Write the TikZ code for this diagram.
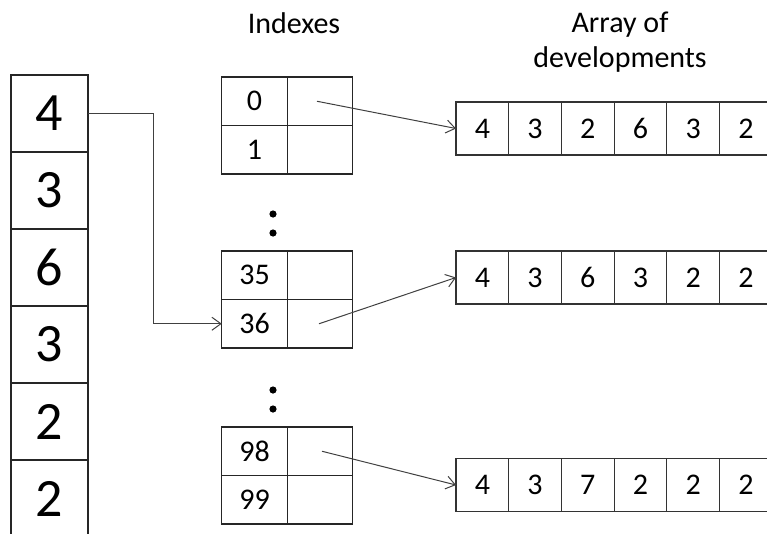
\documentclass[tikz,border=0pt]{standalone}
\usepackage{fontspec}
\setmainfont{Carlito}
\usetikzlibrary{positioning,arrows.meta}

\begin{document}
\begin{tikzpicture}[
    x=1pt, y=-1pt,
    bigcell/.style={draw=black!85, line width=1.2pt, minimum width=77pt, minimum height=77pt, inner sep=0pt, outer sep=0pt, font=\fontsize{54}{60}\selectfont},
    idxcell/.style={draw=black!85, line width=1.1pt, minimum width=65.5pt, minimum height=48.5pt, inner sep=0pt, outer sep=0pt, font=\fontsize{30}{30}\selectfont},
    devcell/.style={draw=black!80, line width=1.1pt, minimum width=52.7pt, minimum height=53pt, inner sep=0pt, outer sep=0pt, font=\fontsize{30}{30}\selectfont},
    title/.style={align=center, font=\fontsize{30}{35}\selectfont},
    arrow/.style={-{Straight Barb[length=9pt,width=13pt]}, draw=black!75, line width=1pt}
]
\useasboundingbox (0,0) rectangle (767,533);
\clip (0,0) rectangle (767,533);

% titles
\node[title] (tidx) at (294,23) {Indexes};
\node[title] (tdev) at (620,42) {Array of\\developments};

% left column
\node[bigcell] (c1) at (49.5,113.5) {4};
\node[bigcell, below=0pt of c1] (c2) {3};
\node[bigcell, below=0pt of c2] (c3) {6};
\node[bigcell, below=0pt of c3] (c4) {3};
\node[bigcell, below=0pt of c4] (c5) {2};
\node[bigcell, below=0pt of c5] (c6) {2};

% index tables
\node[idxcell] (i0) at (254.5,101.25) {0};
\node[idxcell, right=0pt of i0] (i0r) {};
\node[idxcell, below=0pt of i0] (i1) {1};
\node[idxcell, right=0pt of i1] (i1r) {};

\node[idxcell] (i35) at (254.5,275.25) {35};
\node[idxcell, right=0pt of i35] (i35r) {};
\node[idxcell, below=0pt of i35] (i36) {36};
\node[idxcell, right=0pt of i36] (i36r) {};

\node[idxcell] (i98) at (254.5,451.25) {98};
\node[idxcell, right=0pt of i98] (i98r) {};
\node[idxcell, below=0pt of i98] (i99) {99};
\node[idxcell, right=0pt of i99] (i99r) {};

% dots
\fill (273,214) circle (3.6pt) (273,233) circle (3.6pt);
\fill (273,390) circle (3.6pt) (273,409) circle (3.6pt);

% arrays of developments
\node[devcell] (a1) at (482.35,128.5) {4};
\node[devcell, right=0pt of a1] (a2) {3};
\node[devcell, right=0pt of a2] (a3) {2};
\node[devcell, right=0pt of a3] (a4) {6};
\node[devcell, right=0pt of a4] (a5) {3};
\node[devcell, right=0pt of a5] (a6) {2};

\node[devcell] (b1) at (482.35,277.5) {4};
\node[devcell, right=0pt of b1] (b2) {3};
\node[devcell, right=0pt of b2] (b3) {6};
\node[devcell, right=0pt of b3] (b4) {3};
\node[devcell, right=0pt of b4] (b5) {2};
\node[devcell, right=0pt of b5] (b6) {2};

\node[devcell] (d1) at (482.35,485) {4};
\node[devcell, right=0pt of d1] (d2) {3};
\node[devcell, right=0pt of d2] (d3) {7};
\node[devcell, right=0pt of d3] (d4) {2};
\node[devcell, right=0pt of d4] (d5) {2};
\node[devcell, right=0pt of d5] (d6) {2};

% pointers
\draw[arrow] (c1.east) -- ++(65,0) |- (i36.west);
\draw[arrow] ([xshift=-3pt]i0r.center) -- (a1.west);
\draw[arrow] ([xshift=-1pt]i36r.center) -- (b1.west);
\draw[arrow] ([xshift=2pt]i98r.center) -- (d1.west);
\end{tikzpicture}
\end{document}
